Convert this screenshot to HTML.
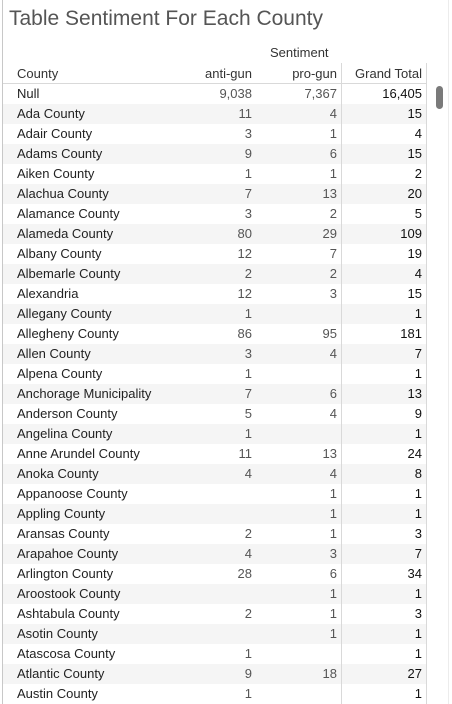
<!DOCTYPE html>
<html><head><meta charset="utf-8">
<style>
html,body{margin:0;padding:0;background:#fff;}
body{width:452px;height:704px;position:relative;overflow:hidden;font-family:"Liberation Sans",sans-serif;}
#frame{position:absolute;left:2px;top:0;width:1px;height:704px;background:#c8c8c8;}
#title{position:absolute;left:9px;top:7px;font-size:21px;color:#555;white-space:nowrap;}
.hdr{position:absolute;font-size:13px;color:#333;white-space:nowrap;}
.vline{position:absolute;width:1px;background:#d9d9d9;}
.row{position:absolute;left:3px;width:424px;height:20px;}
.cell{position:absolute;top:2px;font-size:13px;white-space:nowrap;color:#555;}
#scroll{position:absolute;left:436px;top:86px;width:7px;height:23px;border-radius:4px;background:#7a7a7a;}
#track{position:absolute;left:448px;top:0;width:1px;height:704px;background:#ececec;}
</style></head>
<body>
<div id="frame"></div>
<div id="title">Table Sentiment For Each County</div>
<div class="hdr" style="left:270px;top:45px">Sentiment</div>
<div class="hdr" style="left:17px;top:66px">County</div>
<div class="hdr" style="right:200px;top:66px">anti-gun</div>
<div class="hdr" style="right:115px;top:66px">pro-gun</div>
<div class="hdr" style="right:30px;top:66px">Grand Total</div>
<div style="position:absolute;left:3px;top:83px;width:424px;height:1px;background:#d9d9d9"></div>
<div id="rows"></div>
<div class="vline" style="left:341px;top:63px;height:641px"></div>
<div class="vline" style="left:426px;top:63px;height:641px"></div>
<div id="track"></div>
<div id="scroll"></div>
<script>
const counties=["Null","Ada County","Adair County","Adams County","Aiken County","Alachua County","Alamance County","Alameda County","Albany County","Albemarle County","Alexandria","Allegany County","Allegheny County","Allen County","Alpena County","Anchorage Municipality","Anderson County","Angelina County","Anne Arundel County","Anoka County","Appanoose County","Appling County","Aransas County","Arapahoe County","Arlington County","Aroostook County","Ashtabula County","Asotin County","Atascosa County","Atlantic County","Austin County"];
const antiGun=[9038,11,3,9,1,7,3,80,12,2,12,1,86,3,1,7,5,1,11,4,null,null,2,4,28,null,2,null,1,9,1];
const proGun=[7367,4,1,6,1,13,2,29,7,2,3,null,95,4,null,6,4,null,13,4,1,1,1,3,6,1,1,1,null,18,null];
const grandTotal=[16405,15,4,15,2,20,5,109,19,4,15,1,181,7,1,13,9,1,24,8,1,1,3,7,34,1,3,1,1,27,1];
const fmt=v=>v==null?"":v.toLocaleString("en-US");
const body=document.getElementById("rows");
counties.forEach((c,i)=>{
  const r=document.createElement("div");
  r.className="row";
  
  
  r.style.top=(84+i*20)+"px";
  r.style.background=i%2?"#f5f5f5":"#fff";
  const cells=[[c,"left:14px",'county-cell',"#222"],[fmt(antiGun[i]),"right:175px",'anti-gun-cell',"#555"],[fmt(proGun[i]),"right:90px",'pro-gun-cell',"#555"],[fmt(grandTotal[i]),"right:5px",'grand-total-cell',"#111"]];
  cells.forEach(([t,pos,name,col])=>{
    const d=document.createElement("div");
    d.className="cell";
    
    
    d.style.cssText+=pos+";color:"+col;
    d.textContent=t;
    r.appendChild(d);
  });
  body.appendChild(r);
});
</script>
</body></html>
